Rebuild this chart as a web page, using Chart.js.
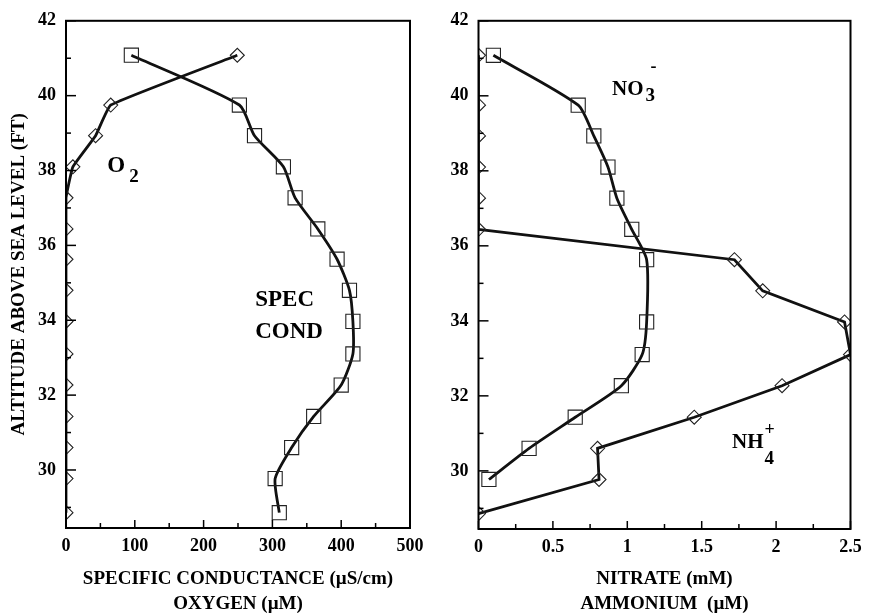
<!DOCTYPE html>
<html><head><meta charset="utf-8">
<script src="https://cdn.jsdelivr.net/npm/chart.js@4.4.1/dist/chart.umd.min.js"></script>
<style>
html,body{margin:0;padding:0;background:#fff;}
#wrap{position:relative;width:872px;height:614px;overflow:hidden;}
#c1{position:absolute;left:0;top:0;}
#c2{position:absolute;left:436px;top:0;}
</style></head><body>
<div id="wrap"><canvas id="c1" width="440" height="614"></canvas><canvas id="c2" width="436" height="614"></canvas></div>
<script>
// ---- data ----
const altitude  = [41.08, 39.75, 38.93, 38.1, 37.27, 36.44, 35.63, 34.8, 33.97, 33.1, 32.27, 31.43, 30.6, 29.77, 28.86];
const specCond  = [95, 252, 274, 316, 333, 366, 394, 412, 417, 417, 400, 360, 328, 304, 310];
const oxygen    = [249, 65, 43, 10, 0, 0, 0, 0, 0, 0, 0, 0, 0, 0, 0];
const nitrate   = [0.1, 0.67, 0.775, 0.87, 0.93, 1.03, 1.13, null, 1.13, 1.1, 0.96, 0.65, 0.34, 0.07, null];
const ammonium  = [0, 0, 0, 0, 0, 0, 1.72, 1.91, 2.46, 2.5, 2.04, 1.45, 0.8, 0.81, 0];

const yTicks       = [30, 32, 34, 36, 38, 40, 42];
const yMinorTicks  = [29, 31, 33, 35, 37, 39, 41];
const xTicksLeft   = [0, 100, 200, 300, 400, 500];
const xMinorLeft   = [50, 150, 250, 350, 450];
const xTicksRight  = [0, 0.5, 1, 1.5, 2, 2.5];
const xLabelsRight = ['0', '0.5', '1', '1.5', '2', '2.5'];
const xMinorRight  = [0.25, 0.75, 1.25, 1.75, 2.25];

const leftTitle  = ['SPECIFIC CONDUCTANCE (\u00B5S/cm)', 'OXYGEN (\u00B5M)'];
const rightTitle = ['NITRATE (mM)', 'AMMONIUM  (\u00B5M)'];
const yTitle     = 'ALTITUDE ABOVE SEA LEVEL (FT)';

const FONT = '"Liberation Serif", "Times New Roman", serif';

function pts(xs) {
  return altitude.map((a, i) => ({x: xs[i], y: a})).filter(p => p.x !== null);
}

// ---- plugins ----
const frame = {
  id: 'frame',
  afterDraw(chart) {
    const {ctx, chartArea: a} = chart;
    ctx.save();
    ctx.strokeStyle = '#000';
    ctx.lineWidth = 2;
    ctx.strokeRect(a.left, a.top, a.right - a.left, a.bottom - a.top);
    ctx.restore();
  }
};
const tickMarks = {
  id: 'tickMarks',
  afterDraw(chart, args, o) {
    const {ctx, chartArea: a, scales: {x, y}} = chart;
    ctx.save();
    ctx.strokeStyle = '#000';
    ctx.lineWidth = 1.5;
    const seg = (x1, y1, x2, y2) => { ctx.beginPath(); ctx.moveTo(x1, y1); ctx.lineTo(x2, y2); ctx.stroke(); };
    o.xMajor.forEach(v => { const p = x.getPixelForValue(v); seg(p, a.bottom, p, a.bottom - 8); });
    o.xMinor.forEach(v => { const p = x.getPixelForValue(v); seg(p, a.bottom, p, a.bottom - 5); });
    o.yMajor.forEach(v => { const p = y.getPixelForValue(v); seg(a.left, p, a.left + 10, p); });
    o.yMinor.forEach(v => { const p = y.getPixelForValue(v); seg(a.left, p, a.left + 5, p); });
    ctx.restore();
  }
};
const chemLabels = {
  id: 'chemLabels',
  afterDraw(chart, args, o) {
    const {ctx, scales: {x, y}} = chart;
    ctx.save();
    ctx.fillStyle = '#000';
    ctx.textBaseline = 'alphabetic';
    ctx.textAlign = 'left';
    o.items.forEach(it => {
      const x0 = x.getPixelForValue(it.x);
      const y0 = y.getPixelForValue(it.y);
      it.lines.forEach((line, li) => {
        let cx = x0, prevStart = x0;
        const by = y0 + li * (it.lineGap || 0);
        line.forEach(p => {
          ctx.font = 'bold ' + p.size + 'px ' + FONT;
          const sx = p.over ? prevStart + (p.gap || 0) : cx + (p.gap || 0);
          ctx.fillText(p.t, sx, by + (p.dy || 0));
          if (!p.over) { prevStart = sx; cx = sx + ctx.measureText(p.t).width; }
        });
      });
    });
    ctx.restore();
  }
};

function yScale(width, titleOn) {
  return {
    type: 'linear', min: 28.45, max: 42,
    afterBuildTicks: s => { s.ticks = yTicks.map(v => ({value: v})); },
    afterFit: s => { s.width = width; },
    ticks: {callback: v => String(v), font: {family: FONT, weight: 'bold', size: 18}, color: '#000', padding: 10},
    grid: {display: false, drawTicks: false},
    border: {display: false},
    title: {display: titleOn, text: yTitle, color: '#000', font: {family: FONT, weight: 'bold', size: 19}, padding: {top: 8, bottom: 0}}
  };
}
function xScale(max, ticks, labels, title, height) {
  return {
    type: 'linear', min: 0, max: max, position: 'bottom',
    afterBuildTicks: s => { s.ticks = ticks.map(v => ({value: v})); },
    afterFit: s => { s.height = height; },
    ticks: {callback: (v, i) => labels[i], font: {family: FONT, weight: 'bold', size: 18}, color: '#000', padding: 8, maxRotation: 0, autoSkip: false},
    grid: {display: false, drawTicks: false},
    border: {display: false},
    title: {display: true, text: title, color: '#000', font: {family: FONT, weight: 'bold', size: 19, lineHeight: '24.5px'}, padding: {top: 0, bottom: -2}}
  };
}
function lineDs(data, style, radius, tension) {
  return {
    data: data, showLine: true, tension: tension,
    borderColor: '#111', borderWidth: 2.8,
    pointStyle: style, pointRadius: radius, pointBorderWidth: 1.1,
    pointBorderColor: '#222', pointBackgroundColor: 'rgba(0,0,0,0)',
    clip: 0
  };
}

new Chart(document.getElementById('c1'), {
  type: 'scatter',
  data: {datasets: [
    lineDs(pts(specCond), 'rect', 10, 0.22),
    lineDs(pts(oxygen), 'rectRot', 7, 0.1)
  ]},
  options: {
    responsive: false, animation: false, events: [],
    layout: {padding: {left: 0, right: 30, top: 11, bottom: 0}},
    plugins: {
      legend: {display: false}, tooltip: {enabled: false},
      tickMarks: {xMajor: xTicksLeft, xMinor: xMinorLeft, yMajor: yTicks, yMinor: yMinorTicks},
      chemLabels: {items: [
        {x: 60, y: 37.96, lines: [[{t: 'O', size: 23}, {t: '2', size: 19, gap: 4, dy: 10}]]},
        {x: 275, y: 34.37, lineGap: 32, lines: [[{t: 'SPEC', size: 23}], [{t: 'COND', size: 23}]]}
      ]}
    },
    scales: {
      x: xScale(500, xTicksLeft, xTicksLeft.map(String), leftTitle, 86),
      y: yScale(66, true)
    }
  },
  plugins: [frame, tickMarks, chemLabels]
});

new Chart(document.getElementById('c2'), {
  type: 'scatter',
  data: {datasets: [
    lineDs(pts(nitrate), 'rect', 10, 0.22),
    lineDs(pts(ammonium), 'rectRot', 7, 0)
  ]},
  options: {
    responsive: false, animation: false, events: [],
    layout: {padding: {left: 0, right: 21.5, top: 11, bottom: 0}},
    plugins: {
      legend: {display: false}, tooltip: {enabled: false},
      tickMarks: {xMajor: xTicksRight, xMinor: xMinorRight, yMajor: yTicks, yMinor: yMinorTicks},
      chemLabels: {items: [
        {x: 0.897, y: 40.03, lines: [[{t: 'NO', size: 21}, {t: '3', size: 19, gap: 2, dy: 6}, {t: '-', size: 18, over: true, gap: 5, dy: -23}]]},
        {x: 1.704, y: 30.6, lines: [[{t: 'NH', size: 21}, {t: '4', size: 19, gap: 1, dy: 16}, {t: '+', size: 18, over: true, gap: 0, dy: -13}]]}
      ]}
    },
    scales: {
      x: xScale(2.5, xTicksRight, xLabelsRight, rightTitle, 85),
      y: yScale(42.5, false)
    }
  },
  plugins: [frame, tickMarks, chemLabels]
});
</script>
</body></html>
